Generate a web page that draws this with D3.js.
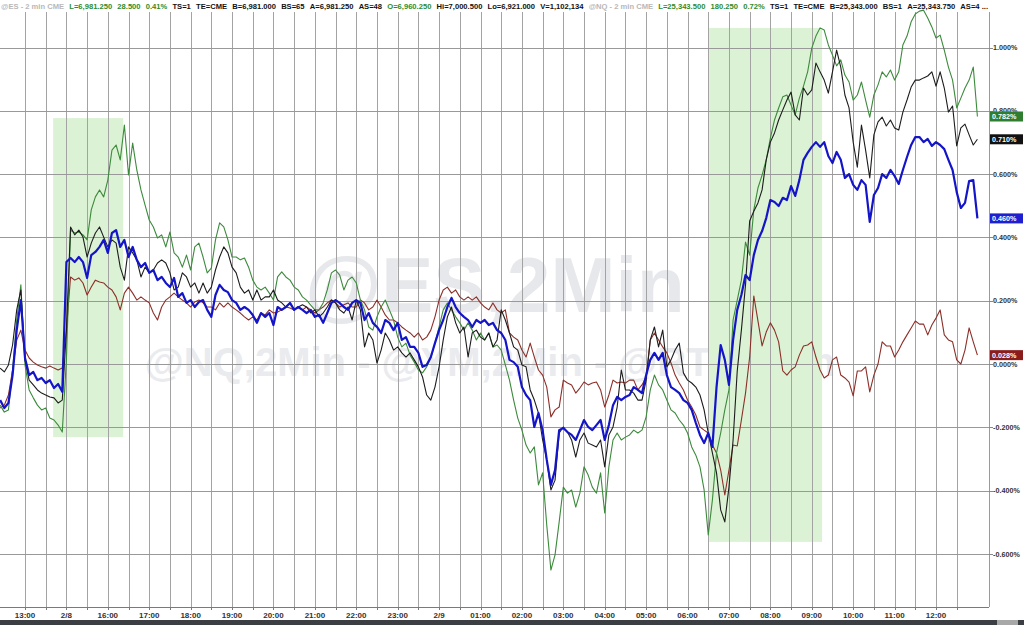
<!DOCTYPE html>
<html><head><meta charset="utf-8">
<script src="https://cdn.jsdelivr.net/npm/d3@7"></script>
<style>html,body{margin:0;padding:0;background:#fff;overflow:hidden}svg{display:block}</style>
</head><body><svg id="c" width="1024" height="625"></svg>
<script>
// ---- data ----
const startHour = -0.6, stepHour = 0.1; // 6-minute samples, hour index relative to the 13:00 label
const xTickLabels = ["13:00","2/8","16:00","17:00","18:00","19:00","20:00","21:00","22:00","23:00","2/9","01:00","02:00","03:00","04:00","05:00","06:00","07:00","08:00","09:00","10:00","11:00","12:00"];
const yTicks = [-0.6,-0.4,-0.2,0,0.2,0.4,0.6,0.8,1.0];

const esValues = [ // blue (@ES)
-0.114,-0.139,-0.123,-0.035,0.107,0.202,0.019,-0.035,-0.025,-0.051,
-0.044,-0.060,-0.051,-0.076,-0.063,-0.088,0.322,0.335,0.322,0.338,
0.322,0.272,0.344,0.354,0.370,0.392,0.351,0.414,0.423,0.370,
0.392,0.338,0.370,0.329,0.306,0.319,0.288,0.297,0.265,0.275,
0.256,0.243,0.272,0.212,0.224,0.193,0.202,0.180,0.196,0.202,
0.171,0.149,0.218,0.250,0.234,0.227,0.202,0.193,0.171,0.180,
0.171,0.155,0.130,0.161,0.149,0.161,0.123,0.180,0.171,0.180,
0.193,0.171,0.180,0.171,0.161,0.171,0.149,0.155,0.130,0.161,
0.193,0.202,0.193,0.180,0.171,0.193,0.202,0.193,0.139,0.161,
0.130,0.117,0.098,0.139,0.130,0.107,0.130,0.076,0.085,0.054,
0.054,0.035,-0.009,-0.003,0.022,0.066,0.107,0.139,0.180,0.209,
0.180,0.161,0.149,0.139,0.117,0.139,0.130,0.139,0.123,0.130,
0.107,0.098,0.076,0.013,0.006,-0.009,-0.073,-0.098,-0.114,-0.199,
-0.155,-0.209,-0.303,-0.382,-0.335,-0.209,-0.202,-0.215,-0.224,-0.240,
-0.209,-0.177,-0.199,-0.209,-0.193,-0.177,-0.240,-0.193,-0.130,-0.104,
-0.114,-0.104,-0.098,-0.073,-0.082,-0.092,-0.035,0.013,0.035,0.013,
0.035,-0.035,-0.073,-0.082,-0.092,-0.114,-0.123,-0.145,-0.186,-0.224,
-0.250,-0.218,-0.262,-0.073,0.060,0.013,-0.066,0.076,0.171,0.218,
0.281,0.265,0.344,0.392,0.420,0.461,0.518,0.512,0.499,0.525,
0.518,0.562,0.531,0.581,0.645,0.667,0.686,0.701,0.686,0.701,
0.657,0.635,0.670,0.645,0.588,0.600,0.566,0.550,0.581,0.566,
0.449,0.534,0.556,0.600,0.588,0.613,0.594,0.569,0.613,0.654,
0.692,0.717,0.717,0.701,0.711,0.689,0.701,0.692,0.679,0.645,
0.613,0.543,0.493,0.509,0.578,0.581,0.460];

const nqValues = [ // black (@NQ)
-0.013,-0.025,-0.003,0.060,0.171,0.234,0.013,-0.051,-0.066,-0.082,
-0.092,-0.098,-0.104,-0.107,-0.123,-0.114,0.107,0.433,0.408,0.423,
0.401,0.338,0.382,0.414,0.433,0.401,0.370,0.392,0.382,0.306,
0.265,0.370,0.351,0.329,0.275,0.306,0.288,0.297,0.319,0.329,
0.319,0.288,0.234,0.243,0.288,0.275,0.243,0.256,0.224,0.256,
0.224,0.243,0.297,0.338,0.370,0.351,0.306,0.288,0.243,0.224,
0.234,0.202,0.234,0.202,0.212,0.212,0.234,0.202,0.193,0.180,
0.193,0.171,0.180,0.187,0.180,0.161,0.171,0.149,0.161,0.180,
0.202,0.193,0.171,0.161,0.180,0.139,0.202,0.171,0.054,0.098,
0.076,0.003,0.044,0.098,0.076,0.044,0.054,0.035,0.022,0.035,
0.013,-0.009,-0.041,-0.098,-0.114,-0.073,-0.009,0.076,0.149,0.180,
0.130,0.098,0.117,0.022,0.098,0.107,0.085,0.076,0.098,0.054,
0.076,0.171,0.139,0.098,0.054,0.044,-0.003,-0.009,-0.082,-0.114,
-0.155,-0.240,-0.303,-0.398,-0.367,-0.218,-0.199,-0.215,-0.240,-0.294,
-0.240,-0.218,-0.250,-0.256,-0.262,-0.240,-0.325,-0.224,-0.199,-0.136,
-0.019,-0.082,-0.082,-0.092,-0.114,-0.114,-0.051,0.076,0.117,0.054,
0.107,-0.009,0.013,0.044,0.066,-0.028,-0.051,-0.060,-0.073,-0.098,
-0.145,-0.218,-0.281,-0.344,-0.461,-0.499,-0.389,-0.240,-0.022,0.107,
0.250,0.452,0.483,0.509,0.550,0.645,0.701,0.730,0.771,0.803,
0.834,0.859,0.787,0.771,0.872,0.850,0.866,0.951,0.923,0.897,
0.856,0.923,0.992,0.938,0.850,0.809,0.701,0.622,0.755,0.676,
0.588,0.724,0.765,0.780,0.752,0.771,0.746,0.739,0.796,0.834,
0.875,0.897,0.897,0.904,0.910,0.923,0.878,0.923,0.872,0.796,
0.815,0.689,0.746,0.758,0.724,0.692,0.710];

const rtyValues = [ // green (@RTY)
-0.130,-0.152,-0.145,-0.019,0.139,0.250,-0.003,-0.082,-0.107,-0.130,
-0.145,-0.139,-0.171,-0.177,-0.193,-0.215,0.013,0.423,0.414,0.417,
0.408,0.392,0.487,0.528,0.550,0.528,0.581,0.676,0.692,0.645,
0.755,0.597,0.698,0.613,0.550,0.502,0.455,0.433,0.398,0.408,
0.370,0.417,0.351,0.338,0.306,0.344,0.297,0.370,0.382,0.338,
0.288,0.303,0.392,0.446,0.433,0.392,0.338,0.338,0.329,0.335,
0.306,0.265,0.243,0.234,0.243,0.224,0.202,0.275,0.291,0.275,
0.265,0.243,0.234,0.212,0.202,0.186,0.171,0.171,0.193,0.234,
0.288,0.297,0.281,0.234,0.265,0.275,0.256,0.202,0.171,0.117,
0.107,0.149,0.180,0.202,0.171,0.139,0.085,0.054,0.066,0.028,
0.006,-0.019,-0.028,-0.009,0.019,0.066,0.117,0.171,0.193,0.171,
0.149,0.130,0.107,0.130,0.107,0.076,0.098,0.076,0.098,0.054,
0.060,0.044,-0.003,-0.051,-0.114,-0.171,-0.209,-0.256,-0.281,-0.262,
-0.382,-0.344,-0.509,-0.651,-0.603,-0.499,-0.389,-0.408,-0.398,-0.452,
-0.408,-0.325,-0.351,-0.389,-0.408,-0.344,-0.471,-0.325,-0.240,-0.218,
-0.240,-0.231,-0.224,-0.209,-0.218,-0.209,-0.167,-0.082,-0.035,-0.066,
-0.082,-0.114,-0.145,-0.155,-0.177,-0.193,-0.218,-0.262,-0.288,-0.325,
-0.398,-0.540,-0.430,-0.281,-0.218,-0.145,-0.082,0.139,0.202,0.265,
0.385,0.344,0.487,0.556,0.597,0.645,0.714,0.771,0.809,0.844,
0.850,0.818,0.787,0.840,0.878,0.923,0.998,1.036,1.062,1.055,
1.008,0.976,0.942,0.961,0.913,0.891,0.834,0.850,0.891,0.834,
0.780,0.850,0.882,0.923,0.907,0.929,0.897,0.923,1.008,1.036,
1.081,1.106,1.115,1.118,1.093,1.065,1.030,1.039,0.992,0.938,
0.897,0.809,0.840,0.872,0.897,0.938,0.782];

const ymValues = [ // brown (@YM)
-0.139,-0.130,-0.098,-0.019,0.076,0.107,0.044,0.019,0.006,-0.003,
-0.009,-0.013,-0.006,-0.013,-0.019,-0.013,0.107,0.275,0.265,0.272,
0.256,0.218,0.243,0.265,0.259,0.256,0.243,0.234,0.212,0.171,
0.224,0.243,0.224,0.202,0.212,0.202,0.193,0.161,0.139,0.180,
0.202,0.212,0.224,0.212,0.202,0.193,0.180,0.196,0.202,0.193,
0.180,0.180,0.171,0.193,0.180,0.193,0.180,0.171,0.161,0.149,
0.139,0.149,0.139,0.161,0.155,0.171,0.161,0.164,0.171,0.180,
0.177,0.171,0.180,0.171,0.180,0.171,0.161,0.171,0.180,0.193,
0.202,0.193,0.180,0.187,0.193,0.180,0.180,0.202,0.193,0.171,
0.180,0.202,0.180,0.155,0.139,0.139,0.130,0.117,0.107,0.098,
0.085,0.098,0.076,0.085,0.107,0.149,0.202,0.234,0.243,0.224,
0.234,0.212,0.202,0.212,0.202,0.212,0.193,0.180,0.171,0.193,
0.171,0.161,0.171,0.098,0.085,0.076,0.044,0.022,0.066,0.022,
-0.019,-0.035,-0.073,-0.167,-0.145,-0.136,-0.051,-0.060,-0.066,-0.092,
-0.076,-0.057,-0.066,-0.060,-0.057,-0.082,-0.136,-0.098,-0.051,-0.060,
-0.057,-0.060,-0.051,-0.051,-0.082,-0.066,-0.041,0.076,0.098,0.076,
0.054,0.035,0.003,-0.035,-0.060,-0.082,-0.114,-0.136,-0.161,-0.199,
-0.209,-0.218,-0.256,-0.281,-0.335,-0.414,-0.335,-0.256,-0.259,-0.177,
-0.092,0.022,0.215,0.136,0.057,0.101,0.130,0.107,0.070,-0.022,
-0.035,-0.019,-0.009,0.028,0.057,0.060,0.070,0.022,-0.019,-0.044,
-0.035,0.013,0.022,-0.035,-0.044,-0.057,-0.101,-0.022,-0.022,-0.009,
-0.088,-0.035,0.000,0.070,0.057,0.057,0.022,0.044,0.070,0.092,
0.114,0.136,0.126,0.126,0.092,0.123,0.145,0.171,0.092,0.076,
0.070,0.013,0.000,0.044,0.114,0.070,0.028];

const highlightStart  = [0.68, 16.52];
const highlightEnd    = [2.37, 19.25];
const highlightTop    = [0.777, 1.062];
const highlightBottom = [-0.231, -0.562];

const seriesNames  = ["@YM", "@RTY", "@NQ", "@ES"];
const seriesColors = ["#8c2f28", "#3c8a3c", "#1c1c1c", "#1414c8"];
const seriesWidths = [1.1, 1.1, 1.1, 2.2];
const endLabelColors = ["#8b1c1c", "#2f7d2f", "#111111", "#1f1fd2"];

const headerTokens = [
 ["@ES - 2 min  CME","#b8b8b8"],["L=6,981.250","#2e8b2e"],["28.500","#2e8b2e"],["0.41%","#2e8b2e"],
 ["TS=1","#111"],["TE=CME","#111"],["B=6,981.000","#111"],["BS=65","#111"],["A=6,981.250","#111"],["AS=48","#111"],
 ["O=6,960.250","#2e8b2e"],["Hi=7,000.500","#111"],["Lo=6,921.000","#111"],["V=1,102,134","#111"],
 ["@NQ - 2 min  CME","#b8b8b8"],["L=25,343.500","#2e8b2e"],["180.250","#2e8b2e"],["0.72%","#2e8b2e"],
 ["TS=1","#111"],["TE=CME","#111"],["B=25,343.000","#111"],["BS=1","#111"],["A=25,343.750","#111"],["AS=4 ...","#111"]
];

// ---- drawing ----
const svg = d3.select("#c");
const FONT = '"Liberation Sans", Arial, sans-serif';
const plotRight = 989, plotTop = 12, plotBottom = 607;
const x = d3.scaleLinear().domain([0, 22]).range([25, 936]);
const y = d3.scaleLinear().domain([0, 1]).range([364, 47.5]);

svg.append("rect").attr("width",1024).attr("height",625).attr("fill","#fff");

// watermarks
svg.append("text").attr("x",495).attr("y",312).attr("text-anchor","middle")
  .style("font",`bold 78px ${FONT}`).attr("fill","#e7e8eb").text("@ES,2Min");
svg.append("text").attr("x",490).attr("y",376).attr("text-anchor","middle")
  .style("font",`bold 40px ${FONT}`).attr("fill","#eaebee").text("@NQ,2Min - @YM,2Min - @RTY,2Min");

// highlight zones
svg.append("g").selectAll("rect").data(highlightStart).join("rect")
  .attr("x",(d)=>x(d)).attr("width",(d,i)=>x(highlightEnd[i])-x(d))
  .attr("y",(d,i)=>y(highlightTop[i])).attr("height",(d,i)=>y(highlightBottom[i])-y(highlightTop[i]))
  .attr("fill","#dcf2d5");

// grid
const vGrid = d3.range(0, 22.5 + 1e-6, 0.5);
svg.append("g").selectAll("line").data(vGrid).join("line")
  .attr("x1",d=>Math.round(x(d))+0.5).attr("x2",d=>Math.round(x(d))+0.5)
  .attr("y1",plotTop).attr("y2",plotBottom).attr("stroke","#a3a3a3").attr("stroke-width",1);
svg.append("g").selectAll("line").data(yTicks).join("line")
  .attr("x1",0).attr("x2",plotRight)
  .attr("y1",d=>Math.round(y(d))+0.5).attr("y2",d=>Math.round(y(d))+0.5)
  .attr("stroke","#999").attr("stroke-width",1);
svg.append("line").attr("x1",plotRight+0.5).attr("x2",plotRight+0.5).attr("y1",plotTop).attr("y2",plotBottom)
  .attr("stroke","#9a9a9a");

// bottom axis
svg.append("line").attr("x1",0).attr("x2",plotRight).attr("y1",plotBottom+0.5).attr("y2",plotBottom+0.5).attr("stroke","#7a7a7a");
svg.append("g").selectAll("line").data(vGrid).join("line")
  .attr("x1",d=>Math.round(x(d))+0.5).attr("x2",d=>Math.round(x(d))+0.5)
  .attr("y1",plotBottom).attr("y2",plotBottom+3).attr("stroke","#7a7a7a");
svg.append("g").selectAll("text").data(xTickLabels).join("text")
  .attr("x",(d,i)=>x(i)).attr("y",618).attr("text-anchor","middle")
  .style("font",`bold 8px ${FONT}`).attr("fill","#333").text(d=>d);
svg.append("rect").attr("x",0).attr("y",620).attr("width",1024).attr("height",5).attr("fill","#3b3e43");
svg.append("rect").attr("x",997).attr("y",620).attr("width",21).attr("height",5).attr("fill","#a8a8a8");

// right axis
svg.append("g").selectAll("line").data(yTicks).join("line")
  .attr("x1",plotRight).attr("x2",plotRight+4)
  .attr("y1",d=>Math.round(y(d))+0.5).attr("y2",d=>Math.round(y(d))+0.5).attr("stroke","#888");
svg.append("g").selectAll("text").data(yTicks).join("text")
  .attr("x",plotRight+4).attr("y",d=>y(d)+2.6)
  .style("font",`bold 7.2px ${FONT}`).attr("fill","#333").text(d=>d.toFixed(3)+"%");

// series
const allSeries = [ymValues, rtyValues, nqValues, esValues];
const line = d3.line().x((d,i)=>x(startHour + i*stepHour)).y(d=>y(d));
svg.append("g").selectAll("path").data(allSeries).join("path")
  .attr("d", d=>line(d)).attr("fill","none")
  .attr("stroke",(d,i)=>seriesColors[i]).attr("stroke-width",(d,i)=>seriesWidths[i])
  .attr("stroke-linejoin","round");

// end labels
const endG = svg.append("g").selectAll("g").data(allSeries).join("g")
  .attr("transform",d=>`translate(${plotRight+1},${y(d[d.length-1])})`);
endG.append("rect").attr("x",0).attr("y",-5).attr("width",33).attr("height",10).attr("fill",(d,i)=>endLabelColors[i]);
endG.append("text").attr("x",2).attr("y",2.6).style("font",`bold 7.2px ${FONT}`).attr("fill","#fff")
  .text(d=>d[d.length-1].toFixed(3)+"%");

// header: laid out left to right, fitted into the chart width
const hdr = svg.append("g");
const hTexts = hdr.selectAll("text").data(headerTokens).join("text")
  .attr("y",9).style("font",`bold 7.6px ${FONT}`).attr("fill",d=>d[1]).text(d=>d[0]);
const widths = [];
hTexts.each(function(){ widths.push(this.getComputedTextLength()); });
const totalW = d3.sum(widths);
const avail = 987;
const gap = Math.max(3, (avail - totalW) / (headerTokens.length - 1));
let cx = 1;
hTexts.attr("x",(d,i)=>{ const v = cx; cx += widths[i] + gap; return v; });
</script>
</body></html>
